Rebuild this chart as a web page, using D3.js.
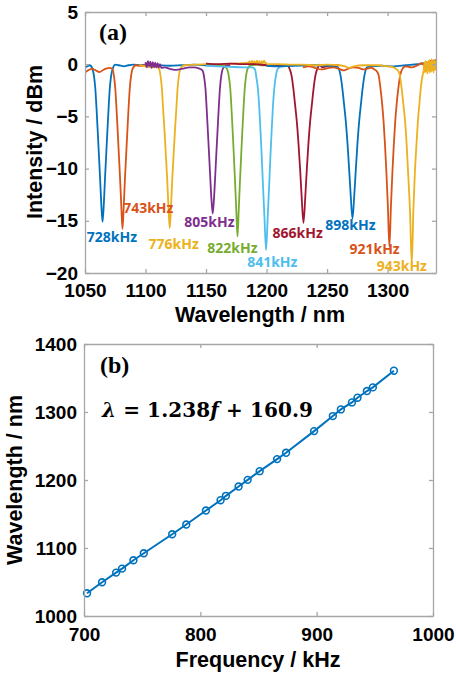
<!DOCTYPE html>
<html>
<head>
<meta charset="utf-8">
<script src="https://cdn.jsdelivr.net/npm/d3@7"></script>
<style>
  body { margin: 0; background: #fff; }
  svg { display: block; }
  .tick text { font-family: "Liberation Sans", Arial, sans-serif; font-weight: bold; font-size: 19px; fill: #000; }
  .axis path, .axis line { stroke: #a6a6a6; stroke-width: 1.3; }
</style>
</head>
<body>
<div id="chart"></div>
<script>
// ---- data: panel (a) spectra, [wavelength nm, intensity dBm] ----
const s728 = [[1050,-0.35],[1052,-0.2],[1054,-0.1],[1056,-0.4],[1057.5,-1.2],[1058.5,-2.3],[1059.5,-4.2],[1060.5,-6.4],[1061.5,-8.7],[1062.5,-11],[1063.5,-13.5],[1064.5,-15.1],[1065.5,-13.5],[1066.5,-11],[1067.5,-8.7],[1068.5,-6.4],[1069.5,-4.2],[1070.5,-2.3],[1071.5,-1.2],[1073,-0.4],[1075,-0.05],[1078,-0.1],[1082,-0.2],[1086,-0.1],[1090,-0.05],[1095,-0.1],[1100,-0.05],[1110,-0.1],[1120,-0.15],[1130,-0.1],[1140,-0.05],[1150,-0.1]];
const s743 = [[1050,-0.8],[1053,-0.55],[1056,-0.45],[1059,-0.6],[1062,-0.75],[1065,-0.55],[1068,-0.4],[1070.5,-0.35],[1072.5,-0.45],[1074,-1.2],[1075,-2.3],[1076,-4.2],[1077,-6.4],[1078,-8.7],[1079,-11],[1080,-13.6],[1081,-15.8],[1082,-13.6],[1083,-11],[1084,-8.7],[1085,-6.4],[1086,-4.2],[1087,-2.3],[1088,-1.2],[1089.5,-0.4],[1092,-0.1],[1096,-0.15],[1100,-0.1],[1105,-0.2],[1110,-0.15]];
const s776 = [[1095,-0.1],[1100,-0.2],[1105,-0.3],[1108,-0.2],[1111,-0.4],[1112.5,-1.2],[1113.5,-2.3],[1114.5,-4.2],[1115.7,-6.4],[1116.8,-8.7],[1117.9,-11],[1119,-13.8],[1120,-15.7],[1121,-13.8],[1122.1,-11],[1123.2,-8.7],[1124.3,-6.4],[1125.5,-4.2],[1126.5,-2.3],[1127.5,-1.2],[1129,-0.4],[1132,-0.1],[1140,-0.05],[1150,0],[1160,-0.05],[1170,0.05],[1180,0.1],[1185,0.15],[1186,0.3],[1187,-0.1],[1188,0.35],[1189,0],[1190,0.3],[1191,-0.05],[1192,0.35],[1193,0.05],[1194,0.3],[1195,0],[1196,0.3],[1197,0.1],[1198,0.35],[1199,0.05],[1200,0.2]];
const s805 = [[1100,0.2],[1101,-0.3],[1102,0.3],[1103,-0.2],[1104,0.25],[1105,-0.35],[1106,0.2],[1107,-0.3],[1108,0.15],[1109,-0.3],[1110,0.1],[1111,-0.3],[1112,0],[1113,-0.35],[1116,-0.3],[1120,-0.45],[1124,-0.55],[1128,-0.5],[1132,-0.4],[1136,-0.3],[1140,-0.3],[1144,-0.4],[1147,-0.6],[1148.5,-1.3],[1149.5,-2.3],[1150.5,-4.2],[1151.5,-6.4],[1152.5,-8.6],[1153.5,-10.9],[1154.5,-13],[1155.5,-14.3],[1156.5,-13],[1157.5,-10.9],[1158.5,-8.6],[1159.5,-6.4],[1160.5,-4.2],[1161.5,-2.3],[1162.5,-1.2],[1164,-0.4],[1166,-0.15],[1170,-0.1]];
const s822 = [[1150,-0.1],[1155,-0.05],[1160,-0.1],[1165,-0.15],[1167.5,-0.5],[1169,-1.3],[1170,-2.3],[1171,-4.2],[1172,-6.4],[1173,-8.8],[1174,-11.3],[1175,-14],[1176,-16.5],[1177,-14],[1178,-11.3],[1179,-8.8],[1180,-6.4],[1181,-4.2],[1182,-2.3],[1183,-1.2],[1184.5,-0.4],[1187,-0.1],[1192,-0.05],[1197,-0.1],[1200,-0.1]];
const s841 = [[1150,-0.15],[1160,-0.2],[1170,-0.25],[1180,-0.3],[1188,-0.3],[1190.5,-0.5],[1191.5,-1.2],[1192.8,-2.3],[1194,-4.2],[1195,-6.4],[1196,-8.8],[1197,-11.5],[1198.2,-14.5],[1199.6,-17.8],[1201,-14.5],[1202.2,-11.5],[1203.2,-8.8],[1204.2,-6.4],[1205.2,-4.2],[1206.4,-2.3],[1207.6,-1.2],[1209,-0.5],[1212,-0.2],[1220,-0.15],[1235,-0.1],[1250,-0.1]];
const s866 = [[1150,0.05],[1160,0],[1170,0.05],[1180,0],[1190,0],[1200,-0.1],[1210,-0.15],[1215,-0.15],[1217,-0.05],[1218.5,-0.3],[1220.5,-1],[1222,-2.2],[1223.5,-3.8],[1225,-5.5],[1226.5,-7.8],[1227.7,-10],[1229,-12.7],[1230.5,-15.2],[1232,-12.7],[1233.3,-10],[1234.5,-7.8],[1236,-5.5],[1237.5,-3.8],[1239,-2.2],[1240.5,-1],[1242.5,-0.3],[1244,-0.05],[1246,-0.3],[1250,-0.2],[1255,-0.1],[1260,-0.1]];
const s898 = [[1200,-0.15],[1210,-0.2],[1220,-0.15],[1230,-0.1],[1240,-0.1],[1250,-0.15],[1257,-0.2],[1259,-0.3],[1261,-1],[1262.5,-2.2],[1264,-3.8],[1265.5,-5.5],[1267,-7.8],[1268.2,-10],[1269.5,-12.5],[1271,-14.8],[1272.5,-12.5],[1273.8,-10],[1275,-7.8],[1276.5,-5.5],[1278,-3.8],[1279.5,-2.2],[1281,-1],[1283,-0.3],[1286,-0.2],[1295,-0.15],[1305,-0.2],[1315,-0.1],[1325,0],[1330,0.1],[1335,0.2],[1338,0.35],[1340,0.3]];
const s921 = [[1230,-0.3],[1235,-0.2],[1240,-0.35],[1245,-0.5],[1250,-0.4],[1255,-0.3],[1260,-0.45],[1264,-0.6],[1268,-0.4],[1272,-0.3],[1276,-0.35],[1280,-0.5],[1284,-0.4],[1287,-0.35],[1289,-0.5],[1290.5,-0.6],[1292.5,-1],[1294,-2.2],[1295.5,-3.8],[1296.7,-5.5],[1297.9,-7.8],[1299,-10.3],[1300.2,-13.5],[1301.5,-17.5],[1302.8,-13.5],[1304,-10.3],[1305.1,-7.8],[1306.3,-5.5],[1307.5,-3.8],[1309,-2.2],[1310.5,-1],[1312.5,-0.4],[1315,-0.2],[1320,-0.3],[1325,-0.1],[1328,0.1],[1330,-0.1],[1332,0.2],[1334,0],[1336,0.35],[1338,0.2],[1340,0.45]];
const s943 = [[1200,0],[1210,0],[1220,-0.05],[1230,-0.05],[1240,-0.1],[1250,-0.05],[1260,-0.1],[1265,-0.2],[1268,-0.35],[1272,-0.2],[1280,-0.1],[1290,-0.1],[1300,-0.2],[1305,-0.3],[1307,-0.45],[1308.5,-0.6],[1310,-1],[1311.5,-2.2],[1313,-3.8],[1314.5,-5.5],[1315.8,-7.8],[1317,-10.5],[1318.5,-14],[1320,-19.1],[1321.3,-14],[1322.5,-10.5],[1323.8,-7.8],[1325,-5.5],[1326.3,-3.8],[1327.5,-2.2],[1328.7,-1.2],[1329.8,-0.6],[1330.5,0.2],[1331,-0.8],[1331.5,0.3],[1332,-0.7],[1332.5,0.2],[1333,-0.9],[1333.5,0.3],[1334,-0.6],[1334.5,0.4],[1335,-0.8],[1335.5,0.2],[1336,-0.7],[1336.5,0.5],[1337,-0.6],[1337.5,0.3],[1338,-0.8],[1338.5,0.4],[1339,-0.5],[1339.5,0.3],[1340,-0.6]];

const spectra = [s728, s743, s776, s805, s822, s841, s866, s898, s921, s943];
const freqLabels = ["728kHz","743kHz","776kHz","805kHz","822kHz","841kHz","866kHz","898kHz","921kHz","943kHz"];
const lineColors = ["#0072BD","#D95319","#EDB120","#7E2F8E","#77AC30","#4DBEEE","#A2142F","#0072BD","#D95319","#EDB120"];
// label anchor (left x in nm, baseline in dBm)
const labelAt = [[1051.5,-17.0],[1081.5,-14.3],[1102.5,-17.7],[1132,-15.6],[1151,-18.1],[1184,-19.4],[1205,-16.6],[1248.5,-15.9],[1268.5,-18.2],[1291,-19.8]];

// ---- data: panel (b) resonance wavelength vs frequency ----
const freqKHz = [702.6,715.5,727.6,732.7,742.5,751.4,775.8,787.9,804.8,817.4,822,832.9,840.7,851,866,873.7,897.8,913.9,920.8,930.3,935.1,943.2,948.3,966.4];
const peakNm  = [1033.4,1049.6,1063.8,1069.7,1082,1092.3,1120.2,1134.5,1155.1,1170.3,1176.7,1190.4,1200.2,1213,1230.7,1240,1271.9,1294,1303.8,1314.1,1321,1330.8,1336.2,1360.7];

const aTicksX = [1050,1100,1150,1200,1250,1300];
const aTicksY = [-20,-15,-10,-5,0,5];
const bTicksX = [700,800,900,1000];
const bTicksY = [1000,1100,1200,1300,1400];

const width = 456, height = 678;
const svg = d3.select("#chart").append("svg").attr("width", width).attr("height", height);

// draw a MATLAB-like boxed axes with inward ticks
function boxAxes(x, y, tx, ty, padX, padY) {
    const g = svg.append("g");
    const [x0, x1] = x.range(), [y0, y1] = y.range();
    g.append("g").attr("class", "axis").attr("transform", `translate(0,${y0})`)
        .call(d3.axisBottom(x).tickValues(tx).tickSizeInner(-4).tickSizeOuter(0).tickPadding(padX).tickFormat(d3.format("d")));
    g.append("g").attr("class", "axis").attr("transform", `translate(0,${y1})`)
        .call(d3.axisTop(x).tickValues(tx).tickSizeInner(-4).tickSizeOuter(0).tickFormat(""));
    g.append("g").attr("class", "axis").attr("transform", `translate(${x0},0)`)
        .call(d3.axisLeft(y).tickValues(ty).tickSizeInner(-4).tickSizeOuter(0).tickPadding(padY).tickFormat(d3.format("d")));
    g.append("g").attr("class", "axis").attr("transform", `translate(${x1},0)`)
        .call(d3.axisRight(y).tickValues(ty).tickSizeInner(-4).tickSizeOuter(0).tickFormat(""));
    return g;
}

function title(txt, x, yy, rot) {
    svg.append("text")
        .attr("transform", `translate(${x},${yy})` + (rot ? " rotate(-90)" : ""))
        .attr("text-anchor", "middle")
        .style("font-family", "'Liberation Sans', Arial, sans-serif")
        .style("font-weight", "bold").style("font-size", "21.5px")
        .text(txt);
}

// ---------------- panel (a) ----------------
const xa = d3.scaleLinear().domain([1050, 1340]).range([85, 436]);
const ya = d3.scaleLinear().domain([-20, 5]).range([273, 12]);

svg.append("clipPath").attr("id", "clipA").append("rect")
    .attr("x", 85).attr("y", 12).attr("width", 351).attr("height", 261);

const lineA = d3.line().x(d => xa(d[0])).y(d => ya(d[1])).curve(d3.curveMonotoneX);
const plotA = svg.append("g").attr("clip-path", "url(#clipA)");
spectra.forEach((s, i) => {
    plotA.append("path").datum(s)
        .attr("d", lineA)
        .attr("fill", "none")
        .attr("stroke", lineColors[i])
        .attr("stroke-width", 1.8)
        .attr("stroke-linejoin", "round");
});

boxAxes(xa, ya, aTicksX, aTicksY, 11, 7);

freqLabels.forEach((t, i) => {
    svg.append("text")
        .attr("x", xa(labelAt[i][0])).attr("y", ya(labelAt[i][1]))
        .style("font-family", "'Open Sans', sans-serif")
        .style("font-weight", "bold").style("font-size", "14px")
        .attr("fill", lineColors[i])
        .text(t);
});

svg.append("text").attr("x", 99).attr("y", 40)
    .style("font-family", "'Liberation Serif', 'Times New Roman', serif")
    .style("font-weight", "bold").style("font-size", "24px")
    .text("(a)");

title("Wavelength / nm", 260, 322, false);
title("Intensity / dBm", 42, 142, true);

// ---------------- panel (b) ----------------
const xb = d3.scaleLinear().domain([700, 1000]).range([84, 433]);
const yb = d3.scaleLinear().domain([1000, 1400]).range([616, 344]);
const pts = freqKHz.map((f, i) => [f, peakNm[i]]);

svg.append("path").datum(pts)
    .attr("d", d3.line().x(d => xb(d[0])).y(d => yb(d[1])))
    .attr("fill", "none").attr("stroke", "#0072BD").attr("stroke-width", 2);
svg.append("g").selectAll("circle").data(pts).enter().append("circle")
    .attr("cx", d => xb(d[0])).attr("cy", d => yb(d[1])).attr("r", 3.4)
    .attr("fill", "none").attr("stroke", "#0072BD").attr("stroke-width", 1.6);

boxAxes(xb, yb, bTicksX, bTicksY, 12, 7);

svg.append("text").attr("x", 100).attr("y", 373)
    .style("font-family", "'Liberation Serif', 'Times New Roman', serif")
    .style("font-weight", "bold").style("font-size", "24px")
    .text("(b)");

const eq = svg.append("text").attr("x", 102).attr("y", 417)
    .attr("textLength", 211).attr("lengthAdjust", "spacing")
    .style("font-family", "'DejaVu Serif', serif")
    .style("font-weight", "bold").style("font-size", "20px");
eq.append("tspan").style("font-style", "italic").text("λ");
eq.append("tspan").text(" = 1.238");
eq.append("tspan").style("font-style", "italic").text("f");
eq.append("tspan").text(" + 160.9");

title("Frequency / kHz", 258, 667, false);
title("Wavelength / nm", 22, 480, true);
</script>
</body>
</html>
